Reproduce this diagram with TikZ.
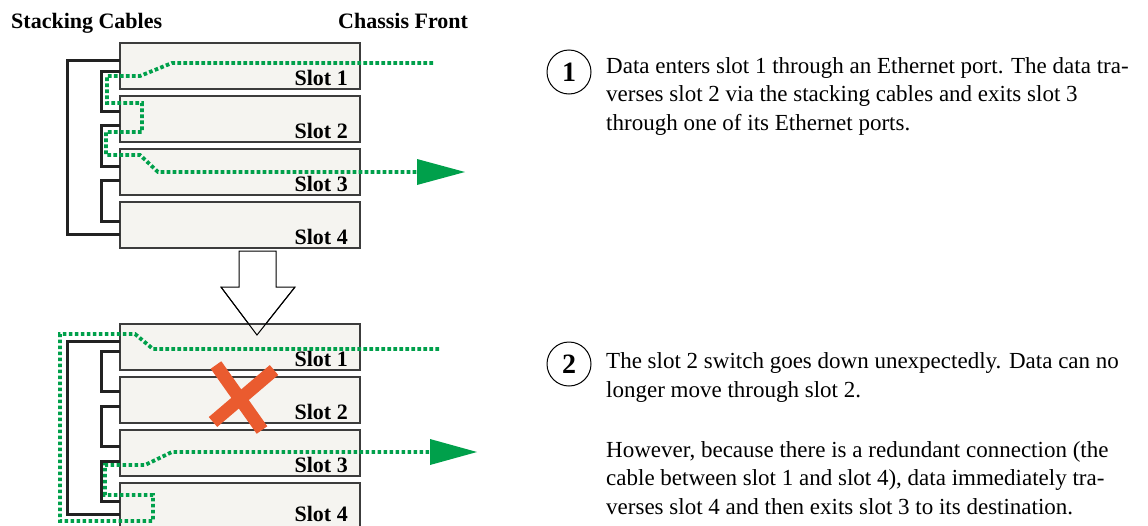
\documentclass[tikz,border=0pt]{standalone}
\usepackage{fontspec}
\setmainfont{Liberation Serif}
\definecolor{boxfill}{HTML}{F5F4F0}
\definecolor{boxline}{HTML}{3C3C3C}
\definecolor{cablecol}{HTML}{222222}
\definecolor{datagreen}{HTML}{00A04B}
\definecolor{xcol}{HTML}{EA5B2F}
\begin{document}
\begin{tikzpicture}[x=1pt,y=-1pt,
  slotbox/.style={draw=boxline, fill=boxfill, line width=1.2pt, minimum width=240pt, minimum height=46pt, inner sep=0pt, outer sep=0pt, anchor=north west},
  slotlab/.style={font=\fontsize{22}{26}\selectfont\bfseries, inner sep=0pt, anchor=base east},
  cable/.style={draw=cablecol, line width=3pt},
  datapath/.style={draw=datagreen, line width=3.8pt, dash pattern=on 3.6pt off 2.4pt},
  numcirc/.style={circle, draw, line width=1pt, minimum size=44pt, inner sep=0pt, font=\fontsize{28}{30}\selectfont\bfseries},
  bodytext/.style={font=\fontsize{23}{28.5}\selectfont, align=left, inner sep=0pt, anchor=base west},
  header/.style={font=\fontsize{22}{26}\selectfont\bfseries, inner sep=0pt, anchor=base west},
  bigarrow/.style={line width=1pt, line join=miter}
]
\useasboundingbox (0,0) rectangle (1148,525);

% headers
\node[header] (h1) at (11,28) {Stacking Cables};
\node[header] (h2) at (338,28) {Chassis Front};

% top stack
\node[slotbox] (t1) at (120,43) {};
\node[slotbox] (t2) at (120,96) {};
\node[slotbox] (t3) at (120,149) {};
\node[slotbox] (t4) at (120,202) {};
\node[slotlab] (t1l) at ([xshift=-12pt,yshift=4pt]t1.south east) {Slot 1};
\node[slotlab] (t2l) at ([xshift=-12pt,yshift=4pt]t2.south east) {Slot 2};
\node[slotlab] (t3l) at ([xshift=-12pt,yshift=4pt]t3.south east) {Slot 3};
\node[slotlab] (t4l) at ([xshift=-12pt,yshift=4pt]t4.south east) {Slot 4};

% top cables
\draw[cable] ([yshift=-17pt]t1.north west) -- ++(-53,0) |- ([yshift=-32pt]t4.north west);
\draw[cable] ([yshift=-28pt]t1.north west) -- ++(-19,0) |- ([yshift=-15pt]t2.north west);
\draw[cable] ([yshift=-29pt]t2.north west) -- ++(-19,0) |- ([yshift=-17pt]t3.north west);
\draw[cable] ([yshift=-31pt]t3.north west) -- ++(-19,0) |- ([yshift=-19pt]t4.north west);

% top data path
\coordinate (tin) at (433,63);
\coordinate (tout) at (417,172);
\draw[datapath] (tin) -- (172,63) -- (140,76) -- (107,76) -- (107,103) -- (142,103) -- (142,132) -- (106,132) -- (106,155) -- (140,155) -- (158,172) -- (tout);
\fill[datagreen] (tout) -- ++(0,-13) -- ++(48,13) -- ++(-48,13) -- cycle;

% big down arrow (fill)
\filldraw[bigarrow, fill=white] (239,251) -- (276,251) -- (276,287) -- (295,287) -- (257,335) -- (221,287) -- (239,287) -- cycle;

% bottom stack
\node[slotbox] (b1) at (120,324) {};
\node[slotbox] (b2) at (120,377) {};
\node[slotbox] (b3) at (120,430) {};
\node[slotbox] (b4) at (120,483) {};
\node[slotlab] (b1l) at ([xshift=-12pt,yshift=4pt]b1.south east) {Slot 1};
\node[slotlab] (b2l) at ([xshift=-12pt,yshift=4pt]b2.south east) {Slot 2};
\node[slotlab] (b3l) at ([xshift=-12pt,yshift=4pt]b3.south east) {Slot 3};
\node[slotlab] (b4l) at ([xshift=-12pt,yshift=8pt]b4.south east) {Slot 4};

% arrow outline over the box
\draw[bigarrow] (295,287) -- (257,335) -- (221,287);

% bottom cables
\draw[cable] ([yshift=-17pt]b1.north west) -- ++(-53,0) |- ([yshift=-31pt]b4.north west);
\draw[cable] ([yshift=-27pt]b1.north west) -- ++(-19,0) |- ([yshift=-14pt]b2.north west);
\draw[cable] ([yshift=-29pt]b2.north west) -- ++(-19,0) |- ([yshift=-16pt]b3.north west);
\draw[cable] ([yshift=-31pt]b3.north west) -- ++(-19,0) |- ([yshift=-18pt]b4.north west);

% bottom data path
\coordinate (bin) at (439,349);
\coordinate (bout) at (430,452);
\draw[datapath] (bin) -- (153,349) -- (135,334) -- (60,334) -- (60,521) -- (153,521) -- (153,495) -- (105,495) -- (105,465) -- (145,465) -- (172,452) -- (bout);
\fill[datagreen] (bout) -- ++(0,-13) -- ++(47,13) -- ++(-47,13) -- cycle;

% red X over slot 2
\draw[xcol, line width=13pt] (216,365) -- (262,430);
\draw[xcol, line width=13pt] (274,370) -- (213,422);

% step numbers and text (base anchor = last line baseline)
\node[numcirc] (c1) at (569,72) {1};
\node[numcirc] (c2) at (569,364) {2};
\node[bodytext] (p1) at (606,130) {Data enters slot 1 through an Ethernet port. The data tra-\\verses slot 2 via the stacking cables and exits slot 3\\through one of its Ethernet ports.};
\node[bodytext] (p2) at (606,397) {The slot 2 switch goes down unexpectedly. Data can no\\longer move through slot 2.};
\node[bodytext] (p3) at (606,514) {However, because there is a redundant connection (the\\cable between slot 1 and slot 4), data immediately tra-\\verses slot 4 and then exits slot 3 to its destination.};
\end{tikzpicture}
\end{document}
